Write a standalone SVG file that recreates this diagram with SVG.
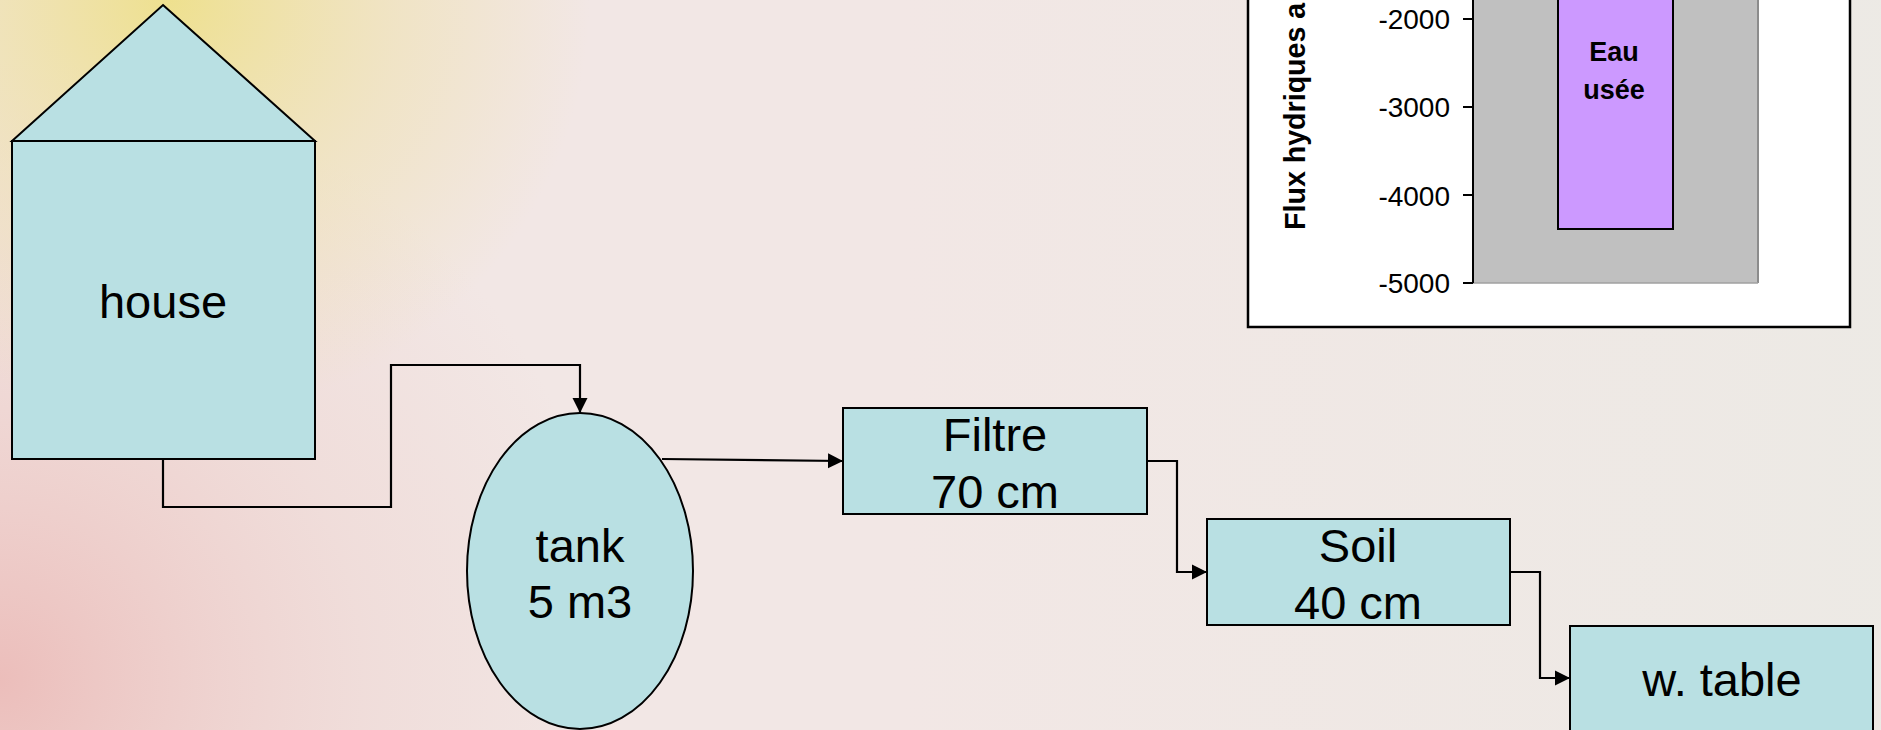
<svg xmlns="http://www.w3.org/2000/svg" width="1881" height="730" viewBox="0 0 1881 730">
  <defs>
    <radialGradient id="gYellow" cx="170" cy="0" r="420" gradientUnits="userSpaceOnUse">
      <stop offset="0" stop-color="#EEE08A" stop-opacity="0.95"/>
      <stop offset="0.55" stop-color="#EEE0A0" stop-opacity="0.45"/>
      <stop offset="1" stop-color="#EEE0A0" stop-opacity="0"/>
    </radialGradient>
    <radialGradient id="gPink" cx="0" cy="680" r="620" gradientUnits="userSpaceOnUse">
      <stop offset="0" stop-color="#EBB9B6" stop-opacity="0.9"/>
      <stop offset="0.6" stop-color="#EDCFCB" stop-opacity="0.4"/>
      <stop offset="1" stop-color="#EDCFCB" stop-opacity="0"/>
    </radialGradient>
    <linearGradient id="gRight" x1="900" y1="0" x2="1881" y2="0" gradientUnits="userSpaceOnUse">
      <stop offset="0" stop-color="#ECE9E4" stop-opacity="0"/>
      <stop offset="1" stop-color="#ECEAE5" stop-opacity="0.9"/>
    </linearGradient>
    <marker id="arrow" markerUnits="userSpaceOnUse" markerWidth="16" markerHeight="16" refX="15" refY="8" orient="auto">
      <path d="M0,0.5 L15,8 L0,15.5 Z" fill="#000"/>
    </marker>
    <style>
      .node { fill: #B9E0E3; stroke: #000; stroke-width: 2; }
      .lbl { font-family: "Liberation Sans", Arial, sans-serif; font-size: 47px; fill: #000; text-anchor: middle; }
      .conn { fill: none; stroke: #000; stroke-width: 2.2; }
      .tick { font-family: "Liberation Sans", Arial, sans-serif; font-size: 28px; fill: #000; text-anchor: end; }
      .barlbl { font-family: "Liberation Sans", Arial, sans-serif; font-size: 27px; font-weight: bold; fill: #000; text-anchor: middle; }
    </style>
  </defs>

  <!-- background -->
  <rect x="0" y="0" width="1881" height="730" fill="#F2E7E5"/>
  <rect x="0" y="0" width="1881" height="730" fill="url(#gRight)"/>
  <rect x="0" y="0" width="1881" height="730" fill="url(#gPink)"/>
  <rect x="0" y="0" width="1881" height="730" fill="url(#gYellow)"/>

  <!-- chart -->
  <g id="chart">
    <rect x="1248" y="-40" width="602" height="367" fill="#FFFFFF" stroke="#000" stroke-width="2.5"/>
    <rect x="1473" y="-40" width="285" height="323" fill="#C0C0C0"/>
    <line x1="1758" y1="-40" x2="1758" y2="283" stroke="#8C8C8C" stroke-width="2"/>
    <line x1="1473" y1="283" x2="1758" y2="283" stroke="#A0A0A0" stroke-width="1.5"/>
    <rect x="1558" y="-40" width="115" height="269" fill="#CC99FF" stroke="#000" stroke-width="2"/>
    <line x1="1473" y1="-40" x2="1473" y2="283" stroke="#000" stroke-width="2"/>
    <g stroke="#000" stroke-width="2">
      <line x1="1463" y1="19" x2="1473" y2="19"/>
      <line x1="1463" y1="107" x2="1473" y2="107"/>
      <line x1="1463" y1="195" x2="1473" y2="195"/>
      <line x1="1463" y1="283" x2="1473" y2="283"/>
    </g>
    <text class="tick" x="1450" y="29">-2000</text>
    <text class="tick" x="1450" y="117">-3000</text>
    <text class="tick" x="1450" y="206">-4000</text>
    <text class="tick" x="1450" y="293">-5000</text>
    <text class="barlbl" x="1614" y="61">Eau</text>
    <text class="barlbl" x="1614" y="99">usée</text>
    <text transform="translate(1305,230) rotate(-90)" font-family="Liberation Sans, Arial, sans-serif" font-size="28.6" font-weight="bold" fill="#000">Flux hydriques a</text>
  </g>

  <!-- connectors -->
  <g id="connectors">
    <path class="conn" d="M163,459 V507 H391 V365 H580 V413" marker-end="url(#arrow)"/>
    <path class="conn" d="M662,459 L843,461" marker-end="url(#arrow)"/>
    <path class="conn" d="M1147,461 H1177 V572 H1207" marker-end="url(#arrow)"/>
    <path class="conn" d="M1510,572 H1540 V678 H1570" marker-end="url(#arrow)"/>
  </g>

  <g id="house">
    <polygon class="node" points="163,5 315,141 12,141"/>
    <rect class="node" x="12" y="141" width="303" height="318"/>
    <text class="lbl" x="163" y="318">house</text>
  </g>

  <g id="tank">
    <ellipse class="node" cx="580" cy="571" rx="113" ry="158" stroke-width="1.8"/>
    <text class="lbl" x="580" y="562">tank</text>
    <text class="lbl" x="580" y="618">5 m3</text>
  </g>

  <g id="filtre">
    <rect class="node" x="843" y="408" width="304" height="106"/>
    <text class="lbl" x="995" y="451">Filtre</text>
    <text class="lbl" x="995" y="508">70 cm</text>
  </g>

  <g id="soil">
    <rect class="node" x="1207" y="519" width="303" height="106"/>
    <text class="lbl" x="1358" y="562">Soil</text>
    <text class="lbl" x="1358" y="619">40 cm</text>
  </g>

  <g id="wtable">
    <rect class="node" x="1570" y="626" width="303" height="106"/>
    <text class="lbl" x="1722" y="696">w. table</text>
  </g>
</svg>
